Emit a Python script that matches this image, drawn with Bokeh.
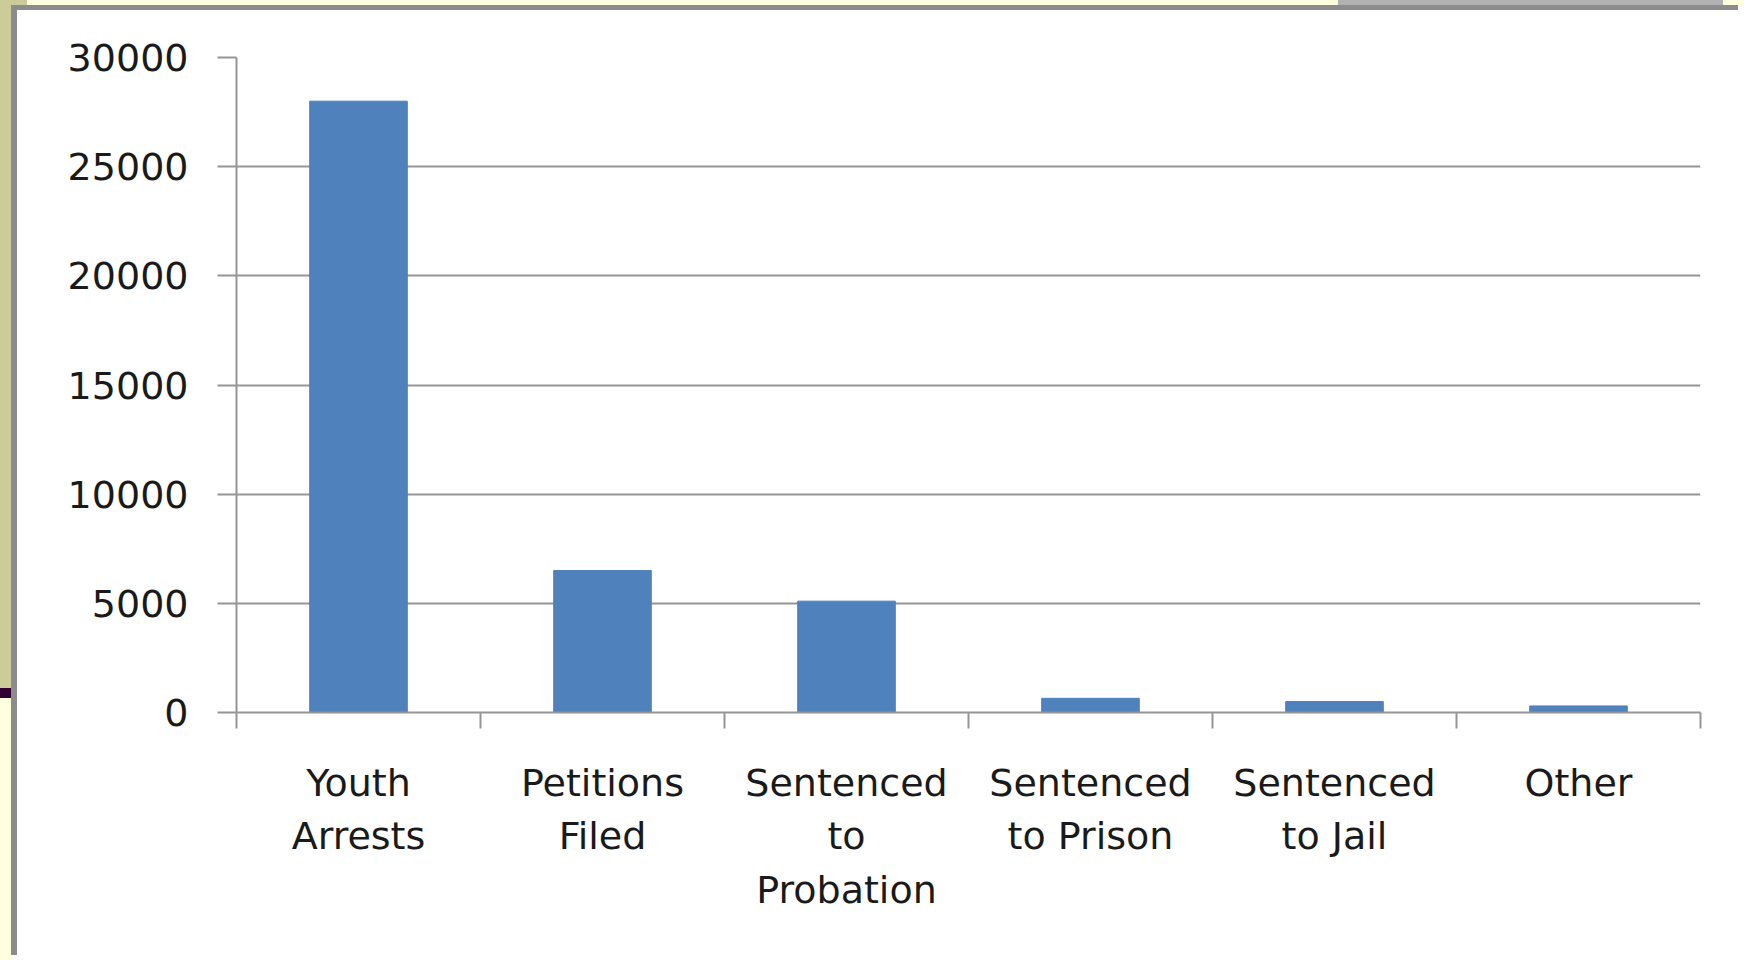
from bokeh.plotting import figure
from bokeh.models import Range1d, FixedTicker
from bokeh.layouts import column
from bokeh.embed import file_html
from bokeh.resources import INLINE
import numpy as np

categories = ["Youth\nArrests", "Petitions\nFiled", "Sentenced\nto\nProbation",
              "Sentenced\nto Prison", "Sentenced\nto Jail", "Other"]
values = [28000, 6500, 5100, 650, 500, 300]
y_ticks = [0, 5000, 10000, 15000, 20000, 25000, 30000]

W, H = 1744, 960
OFF_L, OFF_T = 17, 10
GRID = "#959595"
FONT = "DejaVu Sans"

x = np.arange(len(categories)) + 0.5

p = figure(width=W - OFF_L, height=H - OFF_T, output_backend="svg", toolbar_location=None,
           x_range=Range1d(0, len(categories)), y_range=Range1d(0, 30000),
           min_border_left=236 - OFF_L, min_border_right=44,
           min_border_top=57 - OFF_T, min_border_bottom=248,
           margin=(OFF_T, 0, 0, OFF_L),
           styles={"box-shadow": "-6px -5px 0 0 #8c8c8c"})
p.outline_line_color = None
p.background_fill_color = "white"
p.border_fill_color = "white"

p.vbar(x=x, top=values, width=0.4, bottom=0, color="#4f81bd", line_color="#4f81bd")

# y axis
ya = p.yaxis[0]
ya.ticker = FixedTicker(ticks=y_ticks, minor_ticks=[])
ya.major_tick_out = 19
ya.major_tick_in = 0
ya.major_tick_line_color = GRID
ya.major_tick_line_width = 2
ya.axis_line_color = GRID
ya.axis_line_width = 2
ya.major_label_standoff = 29
ya.major_label_text_font = FONT
ya.major_label_text_font_size = "38px"
ya.major_label_text_color = "#1a1a1a"

# x axis
xa = p.xaxis[0]
xa.ticker = FixedTicker(ticks=list(x), minor_ticks=list(range(len(categories) + 1)))
xa.major_label_overrides = {float(xi): c for xi, c in zip(x, categories)}
xa.major_tick_out = 0
xa.major_tick_in = 0
xa.minor_tick_out = 16
xa.minor_tick_in = 0
xa.minor_tick_line_color = GRID
xa.minor_tick_line_width = 2
xa.axis_line_color = GRID
xa.axis_line_width = 2
xa.major_label_standoff = 32
xa.major_label_text_font = FONT
xa.major_label_text_font_size = "38px"
xa.major_label_text_color = "#1a1a1a"
xa.major_label_text_line_height = 1.22

p.xgrid.visible = False
p.ygrid.ticker = FixedTicker(ticks=y_ticks)
p.ygrid.grid_line_color = GRID
p.ygrid.grid_line_width = 2

bg = ("linear-gradient(to bottom, #cccc99 0px, #cccc99 688px, #330033 688px, #330033 698px, "
      "#ffffdd 698px) 0 0 / 11px 100% no-repeat, "
      "linear-gradient(to right, #cccc99 0px, #cccc99 27px, #ffffdd 27px, #ffffdd 1338px, "
      "#b2b2b2 1338px, #b2b2b2 1723px, #ffffdd 1723px) 0 0 / 100% 5px no-repeat, #ffffff")

root = column(p, width=W, height=H, styles={"background": bg})

open("out.html", "w").write(file_html(root, INLINE))
